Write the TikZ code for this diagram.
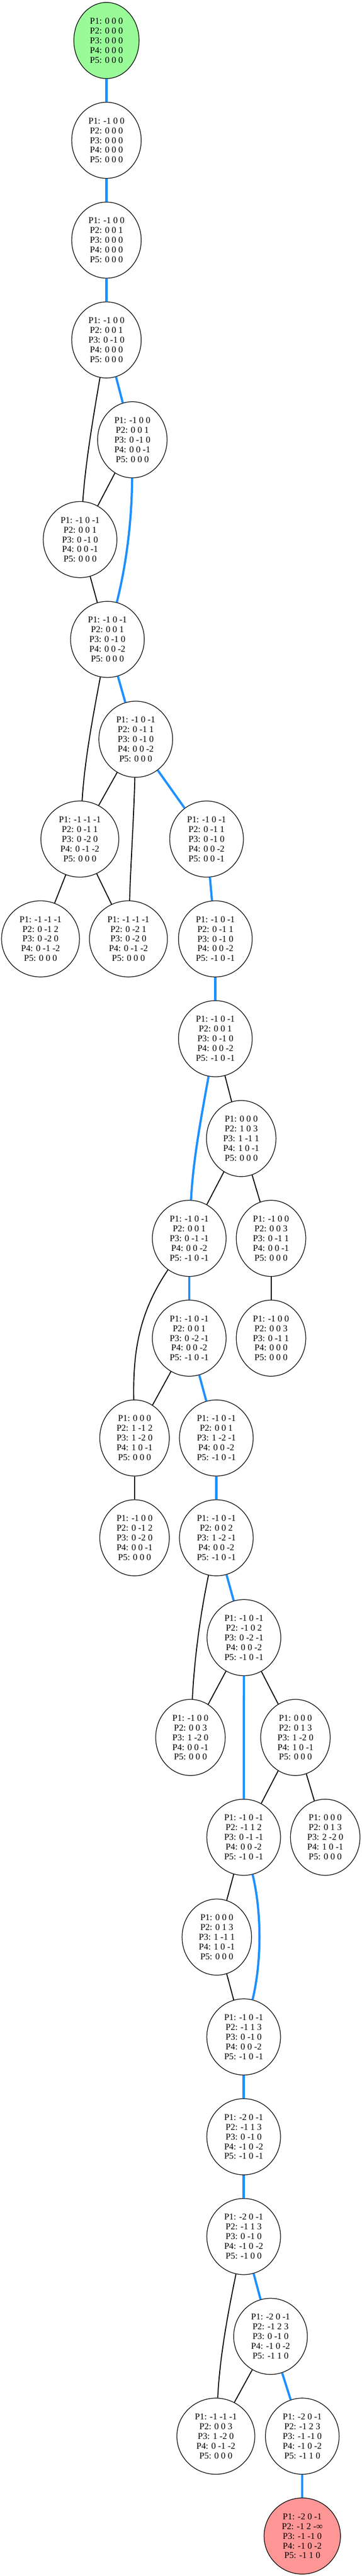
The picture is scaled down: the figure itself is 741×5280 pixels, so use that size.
\documentclass[tikz,border=0pt]{standalone}
\usepackage{fontspec}
\setmainfont{Liberation Serif}
\usetikzlibrary{shapes.geometric}
\definecolor{pathblue}{RGB}{30,144,255}
\definecolor{startgreen}{RGB}{152,251,152}
\definecolor{endred}{RGB}{255,150,150}
\tikzset{
  statenode/.style={ellipse, draw=black, line width=1.3pt, fill=white, minimum height=156pt,
    inner xsep=13.5pt, inner ysep=0pt, align=center, font=\fontsize{18.4pt}{20pt}\selectfont},
  startnode/.style={statenode, fill=startgreen},
  endnode/.style={statenode, fill=endred},
  pathedge/.style={draw=pathblue, line width=4.5pt},
  otheredge/.style={draw=black, line width=2pt},
}
\begin{document}
\begin{tikzpicture}[x=1pt,y=-1pt]
\useasboundingbox (0,0) rectangle (741,5280);
% nodes
\node[startnode] (n0) at (218,83) {P1: 0 0 0\\P2: 0 0 0\\P3: 0 0 0\\P4: 0 0 0\\P5: 0 0 0};
\node[statenode] (n1) at (218,287.6) {P1: -1 0 0\\P2: 0 0 0\\P3: 0 0 0\\P4: 0 0 0\\P5: 0 0 0};
\node[statenode] (n2) at (218,492.2) {P1: -1 0 0\\P2: 0 0 1\\P3: 0 0 0\\P4: 0 0 0\\P5: 0 0 0};
\node[statenode] (n3) at (218,696.8) {P1: -1 0 0\\P2: 0 0 1\\P3: 0 -1 0\\P4: 0 0 0\\P5: 0 0 0};
\node[statenode] (n4) at (271,901.4) {P1: -1 0 0\\P2: 0 0 1\\P3: 0 -1 0\\P4: 0 0 -1\\P5: 0 0 0};
\node[statenode] (n5) at (164,1106) {P1: -1 0 -1\\P2: 0 0 1\\P3: 0 -1 0\\P4: 0 0 -1\\P5: 0 0 0};
\node[statenode] (n6) at (220,1310.6) {P1: -1 0 -1\\P2: 0 0 1\\P3: 0 -1 0\\P4: 0 0 -2\\P5: 0 0 0};
\node[statenode] (n7) at (278,1515.2) {P1: -1 0 -1\\P2: 0 -1 1\\P3: 0 -1 0\\P4: 0 0 -2\\P5: 0 0 0};
\node[statenode] (n8a) at (163.5,1719.8) {P1: -1 -1 -1\\P2: 0 -1 1\\P3: 0 -2 0\\P4: 0 -1 -2\\P5: 0 0 0};
\node[statenode] (n8b) at (423,1719.8) {P1: -1 0 -1\\P2: 0 -1 1\\P3: 0 -1 0\\P4: 0 0 -2\\P5: 0 0 -1};
\node[statenode] (n9a) at (83,1924.4) {P1: -1 -1 -1\\P2: 0 -1 2\\P3: 0 -2 0\\P4: 0 -1 -2\\P5: 0 0 0};
\node[statenode] (n9b) at (263,1924.4) {P1: -1 -1 -1\\P2: 0 -2 1\\P3: 0 -2 0\\P4: 0 -1 -2\\P5: 0 0 0};
\node[statenode] (n9c) at (441,1924.4) {P1: -1 0 -1\\P2: 0 -1 1\\P3: 0 -1 0\\P4: 0 0 -2\\P5: -1 0 -1};
\node[statenode] (n10) at (441,2129) {P1: -1 0 -1\\P2: 0 0 1\\P3: 0 -1 0\\P4: 0 0 -2\\P5: -1 0 -1};
\node[statenode] (n11) at (494,2333.6) {P1: 0 0 0\\P2: 1 0 3\\P3: 1 -1 1\\P4: 1 0 -1\\P5: 0 0 0};
\node[statenode] (n12a) at (387.5,2538.2) {P1: -1 0 -1\\P2: 0 0 1\\P3: 0 -1 -1\\P4: 0 0 -2\\P5: -1 0 -1};
\node[statenode] (n12b) at (555,2538.2) {P1: -1 0 0\\P2: 0 0 3\\P3: 0 -1 1\\P4: 0 0 -1\\P5: 0 0 0};
\node[statenode] (n13a) at (387.5,2742.8) {P1: -1 0 -1\\P2: 0 0 1\\P3: 0 -2 -1\\P4: 0 0 -2\\P5: -1 0 -1};
\node[statenode] (n13b) at (555,2742.8) {P1: -1 0 0\\P2: 0 0 3\\P3: 0 -1 1\\P4: 0 0 0\\P5: 0 0 0};
\node[statenode] (n14a) at (275.5,2947.4) {P1: 0 0 0\\P2: 1 -1 2\\P3: 1 -2 0\\P4: 1 0 -1\\P5: 0 0 0};
\node[statenode] (n14b) at (443,2947.4) {P1: -1 0 -1\\P2: 0 0 1\\P3: 1 -2 -1\\P4: 0 0 -2\\P5: -1 0 -1};
\node[statenode] (n15a) at (275.5,3152) {P1: -1 0 0\\P2: 0 -1 2\\P3: 0 -2 0\\P4: 0 0 -1\\P5: 0 0 0};
\node[statenode] (n15b) at (443,3152) {P1: -1 0 -1\\P2: 0 0 2\\P3: 1 -2 -1\\P4: 0 0 -2\\P5: -1 0 -1};
\node[statenode] (n16) at (499.5,3356.6) {P1: -1 0 -1\\P2: -1 0 2\\P3: 0 -2 -1\\P4: 0 0 -2\\P5: -1 0 -1};
\node[statenode] (n17a) at (390,3561.2) {P1: -1 0 0\\P2: 0 0 3\\P3: 1 -2 0\\P4: 0 0 -1\\P5: 0 0 0};
\node[statenode] (n17b) at (605,3561.2) {P1: 0 0 0\\P2: 0 1 3\\P3: 1 -2 0\\P4: 1 0 -1\\P5: 0 0 0};
\node[statenode] (n18a) at (499,3765.8) {P1: -1 0 -1\\P2: -1 1 2\\P3: 0 -1 -1\\P4: 0 0 -2\\P5: -1 0 -1};
\node[statenode] (n18b) at (666,3765.8) {P1: 0 0 0\\P2: 0 1 3\\P3: 2 -2 0\\P4: 1 0 -1\\P5: 0 0 0};
\node[statenode] (n19) at (444,3970.4) {P1: 0 0 0\\P2: 0 1 3\\P3: 1 -1 1\\P4: 1 0 -1\\P5: 0 0 0};
\node[statenode] (n20) at (499,4175) {P1: -1 0 -1\\P2: -1 1 3\\P3: 0 -1 0\\P4: 0 0 -2\\P5: -1 0 -1};
\node[statenode] (n21) at (499,4379.6) {P1: -2 0 -1\\P2: -1 1 3\\P3: 0 -1 0\\P4: -1 0 -2\\P5: -1 0 -1};
\node[statenode] (n22) at (499,4584.2) {P1: -2 0 -1\\P2: -1 1 3\\P3: 0 -1 0\\P4: -1 0 -2\\P5: -1 0 0};
\node[statenode] (n23) at (554,4788.8) {P1: -2 0 -1\\P2: -1 2 3\\P3: 0 -1 0\\P4: -1 0 -2\\P5: -1 1 0};
\node[statenode] (n24a) at (442,4993.4) {P1: -1 -1 -1\\P2: 0 0 3\\P3: 1 -2 0\\P4: 0 -1 -2\\P5: 0 0 0};
\node[statenode] (n24b) at (619,4993.4) {P1: -2 0 -1\\P2: -1 2 3\\P3: -1 -1 0\\P4: -1 0 -2\\P5: -1 1 0};
\node[endnode] (n25) at (619,5198) {P1: -2 0 -1\\P2: -1 2 -∞\\P3: -1 -1 0\\P4: -1 0 -2\\P5: -1 1 0};
% path edges (blue)
\draw[pathedge] (n0) -- (n1);
\draw[pathedge] (n1) -- (n2);
\draw[pathedge] (n2) -- (n3);
\draw[pathedge] (n3) -- (n4);
\draw[pathedge] (n4) .. controls (270,1070) and (258,1160) .. (n6);
\draw[pathedge] (n6) -- (n7);
\draw[pathedge] (n7) -- (n8b);
\draw[pathedge] (n8b) -- (n9c);
\draw[pathedge] (n9c) -- (n10);
\draw[pathedge] (n10) .. controls (412,2290) and (395,2380) .. (n12a);
\draw[pathedge] (n12a) -- (n13a);
\draw[pathedge] (n13a) -- (n14b);
\draw[pathedge] (n14b) -- (n15b);
\draw[pathedge] (n15b) -- (n16);
\draw[pathedge] (n16) -- (n18a);
\draw[pathedge] (n18a) .. controls (536,3920) and (536,4020) .. (n20);
\draw[pathedge] (n20) -- (n21);
\draw[pathedge] (n21) -- (n22);
\draw[pathedge] (n22) -- (n23);
\draw[pathedge] (n23) -- (n24b);
\draw[pathedge] (n24b) -- (n25);
% other edges (black)
\draw[otheredge] (n3) .. controls (190,860) and (175,950) .. (n5);
\draw[otheredge] (n4) -- (n5);
\draw[otheredge] (n5) -- (n6);
\draw[otheredge] (n6) .. controls (190,1470) and (173,1560) .. (n8a);
\draw[otheredge] (n7) -- (n8a);
\draw[otheredge] (n7) .. controls (274,1680) and (268,1760) .. (n9b);
\draw[otheredge] (n8a) -- (n9a);
\draw[otheredge] (n8a) -- (n9b);
\draw[otheredge] (n10) -- (n11);
\draw[otheredge] (n11) -- (n12a);
\draw[otheredge] (n11) -- (n12b);
\draw[otheredge] (n12a) .. controls (285,2690) and (272,2770) .. (n14a);
\draw[otheredge] (n12b) -- (n13b);
\draw[otheredge] (n13a) -- (n14a);
\draw[otheredge] (n14a) -- (n15a);
\draw[otheredge] (n15b) .. controls (410,3310) and (398,3400) .. (n17a);
\draw[otheredge] (n16) -- (n17a);
\draw[otheredge] (n16) -- (n17b);
\draw[otheredge] (n17b) -- (n18a);
\draw[otheredge] (n17b) -- (n18b);
\draw[otheredge] (n18a) -- (n19);
\draw[otheredge] (n19) -- (n20);
\draw[otheredge] (n22) .. controls (467,4740) and (450,4830) .. (n24a);
\draw[otheredge] (n23) -- (n24a);
\end{tikzpicture}
\end{document}
